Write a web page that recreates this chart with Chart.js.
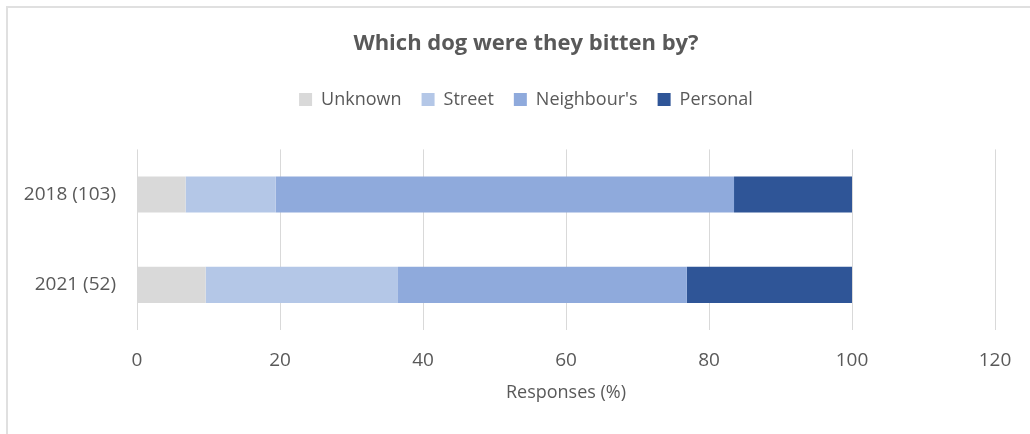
<!DOCTYPE html>
<html>
<head>
<meta charset="utf-8">
<script src="https://cdn.jsdelivr.net/npm/chart.js@4"></script>
<style>
  html, body { margin: 0; padding: 0; background: #fff; overflow: hidden; }
  #frame {
    position: absolute; left: 6px; top: 6px;
    width: 1036px; height: 430px;
    border: 2px solid #e0e0e0;
  }
  #frame canvas { display: block; }
</style>
</head>
<body>
<div id="frame"><canvas id="biteChart" width="1036" height="430"></canvas></div>
<script>
// categories and shares (% of responses)
const years = ['2018 (103)', '2021 (52)'];
const unknownPct = [6.8, 9.6];
const streetPct = [12.6, 26.9];
const neighbourPct = [64.1, 40.4];
const personalPct = [16.5, 23.1];
const xTicks = [0, 20, 40, 60, 80, 100, 120];

const textColor = '#595959';
const fontFamily = '"Open Sans", "Noto Sans", sans-serif';

// push the plot down below the legend a bit
const legendGap = {
  id: 'legendGap',
  beforeInit(chart) {
    const fit = chart.legend.fit;
    chart.legend.fit = function () {
      fit.bind(this)();
      this.height += 31;
    };
  },
};

new Chart(document.getElementById('biteChart'), {
  type: 'bar',
  data: {
    labels: years,
    datasets: [
      { label: 'Unknown', data: unknownPct, backgroundColor: '#d9d9d9' },
      { label: 'Street', data: streetPct, backgroundColor: '#b4c7e7' },
      { label: "Neighbour's", data: neighbourPct, backgroundColor: '#8faadc' },
      { label: 'Personal', data: personalPct, backgroundColor: '#2f5597' },
    ],
  },
  options: {
    indexAxis: 'y',
    responsive: false,
    animation: false,
    categoryPercentage: 0.8,
    barPercentage: 0.5,
    layout: { padding: { left: 0, right: 0, top: 0, bottom: 34 } },
    plugins: {
      title: {
        display: true,
        text: 'Which dog were they bitten by?',
        color: textColor,
        font: { family: fontFamily, size: 22, weight: 'bold' },
        padding: { top: 23, bottom: 13 },
      },
      legend: {
        position: 'top',
        labels: {
          color: textColor,
          font: { family: fontFamily, size: 18 },
          boxWidth: 13,
          boxHeight: 13,
          padding: 20,
        },
      },
      tooltip: { enabled: false },
    },
    scales: {
      x: {
        stacked: true,
        min: 0,
        max: 120,
        afterBuildTicks(scale) {
          scale.ticks = xTicks.map(v => ({ value: v }));
        },
        afterFit(scale) { scale.height = 74; },
        grid: { color: '#d9d9d9', drawTicks: false },
        border: { display: false },
        ticks: {
          color: textColor,
          font: { family: fontFamily, size: 19 },
          padding: 19,
        },
        title: {
          display: true,
          text: 'Responses (%)',
          color: textColor,
          font: { family: fontFamily, size: 18 },
          padding: { top: 4, bottom: 0 },
        },
      },
      y: {
        stacked: true,
        afterFit(scale) { scale.width = 129; },
        grid: { display: false },
        border: { display: false },
        ticks: {
          color: textColor,
          font: { family: fontFamily, size: 19 },
          padding: 13,
        },
      },
      // empty right-hand gutter so the title and legend stay centred on the frame
      gutter: {
        axis: 'y',
        type: 'category',
        position: 'right',
        afterFit(scale) { scale.width = 49; },
        grid: { display: false },
        border: { display: false },
        ticks: { display: false },
      },
    },
  },
  plugins: [legendGap],
});
</script>
</body>
</html>
